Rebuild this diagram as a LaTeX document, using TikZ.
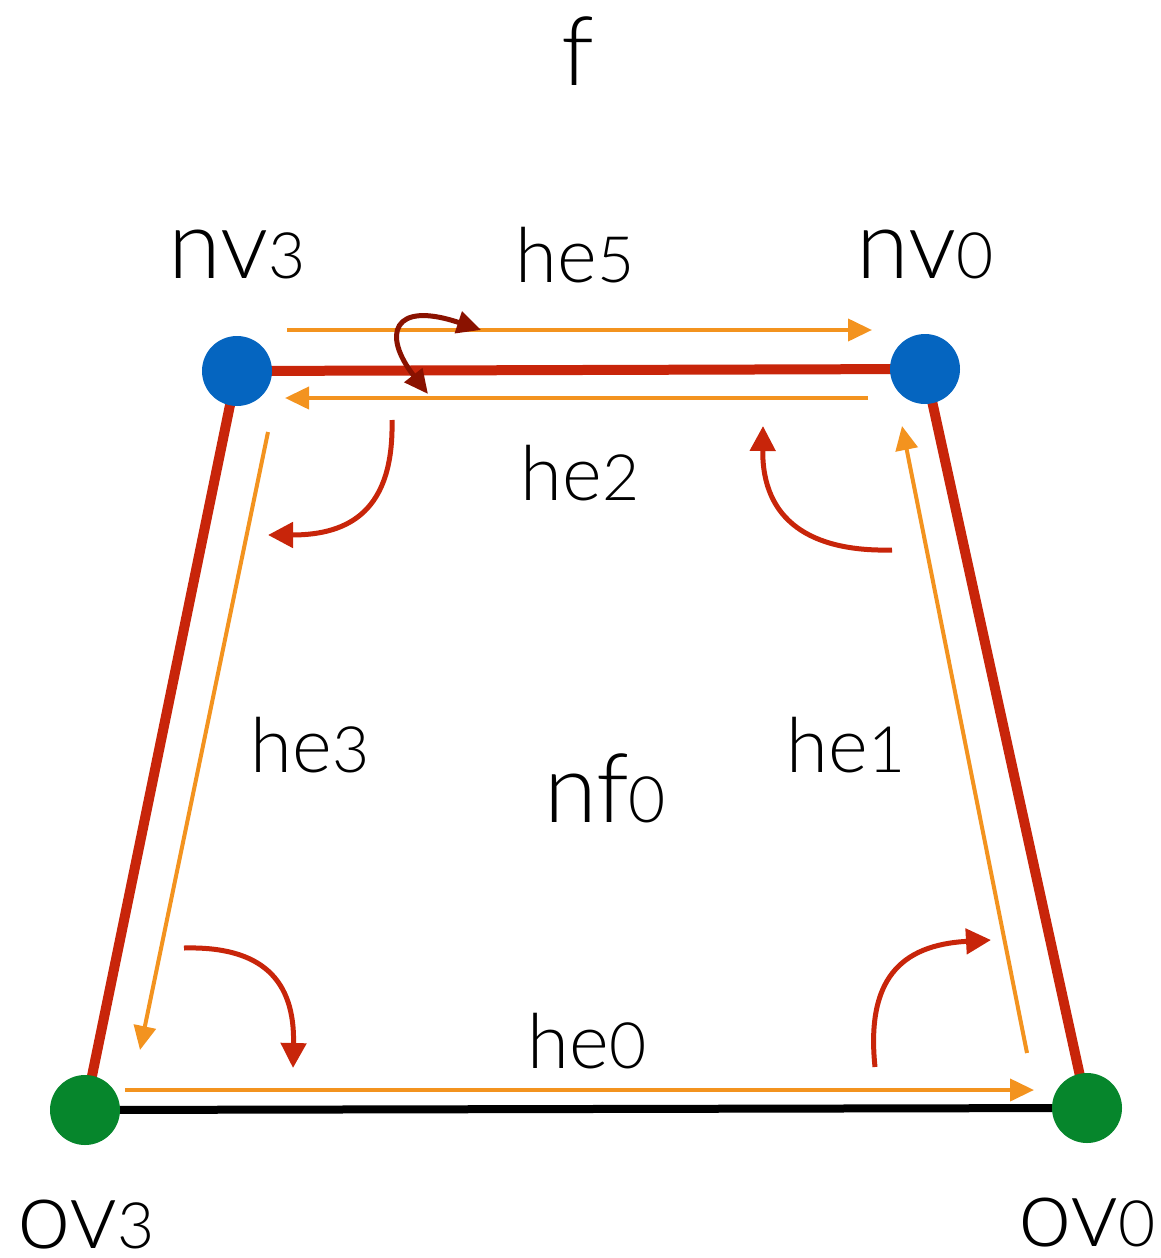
\documentclass[tikz,border=0pt]{standalone}
\usepackage{fontspec}
\setmainfont{Lato}[UprightFont={* Light}]
\usetikzlibrary{arrows.meta,backgrounds}
\definecolor{vblue}{HTML}{0565C0}
\definecolor{vgreen}{HTML}{06862C}
\definecolor{ered}{HTML}{C8250A}
\definecolor{hor}{HTML}{F3931F}
\definecolor{dred}{HTML}{8A1200}
\newcommand{\lsub}[1]{{\fontsize{64}{64}\selectfont #1}}
\tikzset{
  dotblue/.style={circle,fill=vblue,minimum size=70pt,inner sep=0pt},
  dotgreen/.style={circle,fill=vgreen,minimum size=70pt,inner sep=0pt},
  biglab/.style={anchor=base,inner sep=0pt,text depth=0pt,font=\fontsize{96}{96}\selectfont},
  helab/.style={anchor=base,inner sep=0pt,text depth=0pt,font=\fontsize{76}{76}\selectfont},
  redge/.style={draw=ered,line width=10pt},
  bedge/.style={draw=black,line width=8pt},
  hearrow/.style={draw=hor,line width=4pt,-{Triangle[length=24pt,width=22pt]}},
  nextarrow/.style={draw=ered,line width=5pt,-{Triangle[length=25pt,width=25pt]}},
  twinarrow/.style={draw=dred,line width=5pt,{Triangle[length=24pt,width=22pt]}-{Triangle[length=24pt,width=22pt]}}
}
\begin{document}
\begin{tikzpicture}[x=1pt,y=-1pt]
\useasboundingbox (0,0) rectangle (1160,1258);
% vertices
\node[dotblue] (nv3) at (237,371) {};
\node[dotblue] (nv0) at (925,369) {};
\node[dotgreen] (ov3) at (85,1110) {};
\node[dotgreen] (ov0) at (1087,1108) {};
\begin{scope}[on background layer]
\draw[redge] (nv3.center) -- (nv0.center);
\draw[redge] (nv3.center) -- (ov3.center);
\draw[redge] (nv0.center) -- (ov0.center);
\draw[bedge] (ov3.center) -- (ov0.center);
\end{scope}
% half-edge endpoints
\coordinate (h5s) at (287,330); \coordinate (h5e) at (872,330);
\coordinate (h2s) at (868,398); \coordinate (h2e) at (285,398);
\coordinate (h3s) at (268,432); \coordinate (h3e) at (140,1050);
\coordinate (h0s) at (125,1090); \coordinate (h0e) at (1034,1090);
\coordinate (h1s) at (1027,1053); \coordinate (h1e) at (902,426);
\draw[hearrow] (h5s) -- (h5e);
\draw[hearrow] (h2s) -- (h2e);
\draw[hearrow] (h3s) -- (h3e);
\draw[hearrow] (h0s) -- (h0e);
\draw[hearrow] (h1s) -- (h1e);
% next arrows
\coordinate (a1s) at (392,420); \coordinate (a1e) at (268,535);
\draw[nextarrow] (a1s) .. controls (394,510) and (350,535) .. (a1e);
\coordinate (a2s) at (892,550); \coordinate (a2e) at (763,426);
\draw[nextarrow] (a2s) .. controls (810,552) and (762,520) .. (a2e);
\coordinate (a3s) at (184,948); \coordinate (a3e) at (293,1068);
\draw[nextarrow] (a3s) .. controls (262,946) and (295,980) .. (a3e);
\coordinate (a4s) at (875,1067); \coordinate (a4e) at (991,940);
\draw[nextarrow] (a4s) .. controls (866,980) and (900,945) .. (a4e);
% twin arrow
\coordinate (t1) at (428,394); \coordinate (t2) at (481,330);
\draw[twinarrow] (t1) .. controls (382,335) and (392,300) .. (t2);
% labels
\node[biglab] (lf) at (578,85) {f};
\node[biglab] (lnv3) at (237,278) {nv\lsub{3}};
\node[biglab] (lnv0) at (925,278) {nv\lsub{0}};
\node[helab] (lhe5) at (575,282) {he\lsub{5}};
\node[helab] (lhe2) at (580,500) {he\lsub{2}};
\node[helab] (lhe3) at (310,772) {he\lsub{3}};
\node[helab] (lhe1) at (846,772) {he\lsub{1}};
\node[biglab] (lnf0) at (605,822) {nf\lsub{0}};
\node[helab] (lhe0) at (587,1068) {he\lsub{0}};
\node[biglab] (lov3) at (86,1248) {ov\lsub{3}};
\node[biglab] (lov0) at (1087,1246) {ov\lsub{0}};
\end{tikzpicture}
\end{document}
